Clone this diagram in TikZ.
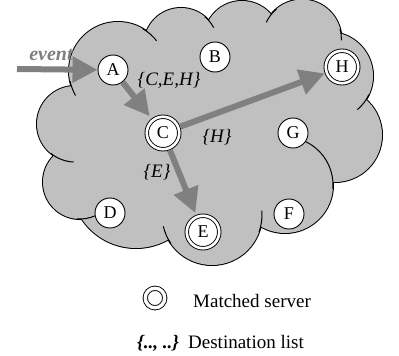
\documentclass[tikz,border=0pt]{standalone}
\usepackage{fontspec}
\setmainfont{Liberation Serif}
\usetikzlibrary{arrows.meta}
\definecolor{cloudgray}{HTML}{C0C0C0}
\definecolor{flowgray}{HTML}{808080}
\begin{document}
\begin{tikzpicture}[x=1pt,y=-1pt,
  server/.style={circle, draw, fill=white, line width=0.9pt, minimum size=30pt,
    inner sep=0pt, font=\fontsize{18}{18}\selectfont},
  matched/.style={server, double=white, double distance=2.6pt, minimum size=32.5pt,
    outer sep=2.2pt},
  flow/.style={draw=flowgray, line width=6pt, -{Triangle[length=25pt,width=25pt]}},
  lbl/.style={font=\fontsize{19}{19}\selectfont\itshape, inner sep=0pt},
  txt/.style={font=\fontsize{19}{19}\selectfont, inner sep=0pt, anchor=base west},
  rim/.style={line width=1pt}]
\useasboundingbox (0,0) rectangle (399,356);

% cloud: stroked circles under a filled union leave only the outer rim
\def\bumps{118/71/49, 181/45/37, 242/39/38, 302/39/39.4, 329/76/44, 335/135/47,
  285/185/48, 212/215/50, 136/183/65, 80/182/37, 75/124/38}
\foreach \cx/\cy/\r in \bumps
  \draw[line width=2pt] (\cx,\cy) circle[radius=\r];
\foreach \cx/\cy/\r in \bumps
  \fill[cloudgray] (\cx,\cy) circle[radius=\r];
\fill[cloudgray] (118,71) -- (181,45) -- (242,39) -- (302,39) -- (329,76)
  -- (335,135) -- (285,185) -- (212,215) -- (136,183) -- (80,182) -- (75,124) -- cycle;

% inner arc ends of the bumps
\foreach \cx/\cy/\r/\a/\b in {118/71/49/168/150, 118/71/49/-60/-38,
  181/45/37/-50/-28, 302/39/39.4/230/205, 302/39/39.4/-15/2,
  329/76/44/25/50, 285/185/48/5/-70, 212/215/50/20/-5,
  212/215/50/145/167, 80/182/37/95/66, 75/124/38/130/92}
  \draw[rim] ([shift={(\a:\r)}]\cx,\cy) arc[start angle=\a, end angle=\b, radius=\r];

% servers
\node[server]  (A) at (113,70) {A};
\node[server]  (B) at (215,57) {B};
\node[matched] (H) at (342,67) {H};
\node[matched] (C) at (163,133) {C};
\node[server]  (G) at (293,133) {G};
\node[server]  (D) at (110,213) {D};
\node[matched] (E) at (203,232) {E};
\node[server]  (F) at (289,214) {F};

% event flow
\coordinate (ev) at (17,69);
\node[font=\fontsize{20}{20}\selectfont\bfseries\itshape, text=flowgray, anchor=base,
  inner sep=0pt] (evlbl) at (51,60) {event};
\draw[flow] (ev) -- (A);
\draw[flow, shorten >=3pt] (A) -- (C);
\draw[flow] (C) -- (H);
\draw[flow, shorten >=2pt] (C) -- (E);

% destination lists
\node[lbl] (lCEH) at (169,80) {\{C,E,H\}};
\node[lbl] (lH) at (217,137) {\{H\}};
\node[lbl] (lE) at (157,172) {\{E\}};

% legend
\node[circle, draw, line width=0.9pt, double=white, double distance=3.4pt,
  minimum size=19.5pt, inner sep=0pt] (key) at (155,298) {};
\node[txt] (keytxt) at (193,307) {Matched server};
\node[txt, font=\fontsize{19}{19}\selectfont\bfseries\itshape] (listkey) at (137,348) {\{.., ..\}};
\node[txt] (listtxt) at (188,348) {Destination list};
\end{tikzpicture}
\end{document}
